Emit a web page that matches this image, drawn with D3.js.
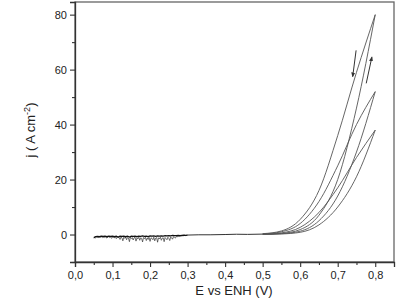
<!DOCTYPE html>
<html>
<head>
<meta charset="utf-8">
<script src="https://cdn.jsdelivr.net/npm/d3@7"></script>
<style>
  body { margin: 0; background: #fff; }
  svg { display: block; font-family: "Liberation Sans", Arial, sans-serif; }
</style>
</head>
<body>
<div id="container"></div>
<script>
/* CONSTANTS AND GLOBALS */
const width = 418;
const height = 301;
const margin = { left: 75, right: 24, top: 2, bottom: 39 };

/* DATA */
// tick values
const xTicks = [0, 0.1, 0.2, 0.3, 0.4, 0.5, 0.6, 0.7, 0.8];
const xMinor = [0.05, 0.15, 0.25, 0.35, 0.45, 0.55, 0.65, 0.75];
const yTicks = [0, 20, 40, 60, 80];
const yMinor = [-10, 10, 30, 50, 70];

// noisy low-potential region (two scans overlapping)
const noiseFwdJ = [-1.1, -0.8, -0.7, -0.8, -0.6, -0.7, -0.6, -0.8, -0.6, -0.7, -0.6, -0.8, -0.6, -0.9, -0.6, -0.7, -0.6, -0.8, -0.6, -0.9, -0.6, -0.7, -0.6, -0.8, -0.6, -0.7, -0.5, -0.7, -0.6, -0.8, -0.5, -0.6, -0.5, -0.7, -0.5, -0.6, -0.5, -0.6, -0.4, -0.5, -0.4, -0.5, -0.3, -0.4, -0.4, -0.3, -0.4, -0.3, -0.2, -0.3, -0.2];
const noiseRevJ = [
  -1.3, -1.1, -1.2, -0.9, -1.0, -1.1, -0.9, -1.0, -0.8, -1.1,
  -0.9, -1.2, -0.8, -1.0, -1.3, -0.9, -0.8, -1.1, -0.9, -1.4,
  -0.9, -1.0, -1.2, -0.8, -1.5, -0.9, -1.1, -1.0, -1.8, -0.9,
  -1.2, -2.3, -1.0, -1.4, -0.9, -1.9, -1.1, -1.3, -2.6, -1.0,
  -1.5, -1.1, -2.0, -1.2, -1.0, -2.4, -1.3, -1.6, -1.0, -2.1,
  -1.2, -1.4, -2.7, -1.1, -1.5, -1.0, -2.2, -1.3, -1.8, -1.1,
  -2.5, -1.2, -1.4, -1.9, -1.0, -2.3, -1.3, -1.1, -2.8, -1.2,
  -1.6, -1.0, -2.1, -1.3, -1.2, -2.6, -1.1, -1.5, -1.9, -1.0,
  -1.4, -2.2, -0.9, -1.2, -1.7, -0.8, -1.0, -1.3, -0.7, -0.8,
  -0.6, -0.7, -0.5, -0.6, -0.4, -0.5, -0.4, -0.3, -0.4, -0.3, -0.2
];

// flat part
const flatE = [0.30, 0.33, 0.36, 0.40, 0.43, 0.46, 0.50];
const flatJ = [-0.2, -0.1, -0.1, 0.0, 0.1, 0.05, 0.15];

// rising loops (E in V, j in A cm-2)
const loopE = [0.50, 0.55, 0.60, 0.65, 0.70, 0.75, 0.80];
const c1Fwd = [0.1, 0.4, 1.8, 7, 20, 46, 80];
const c1Rev = [0.3, 1.3, 5.5, 16, 36, 59, 80];
const c2Fwd = [0.1, 0.3, 1.2, 5, 14, 30, 52];
const c2Rev = [0.2, 1.0, 4.0, 12, 25, 40, 52];
const c3Fwd = [0.05, 0.2, 0.8, 3.5, 10, 21, 38];
const c3Rev = [0.1, 0.6, 2.6, 8, 17, 28, 38];

// scan direction arrows [E0, j0, E1, j1]
const arrows = [
  [0.749, 67, 0.740, 57.5],
  [0.776, 55, 0.791, 64.5]
];

/* SVG */
const svg = d3.select("#container")
  .append("svg")
  .attr("width", width)
  .attr("height", height);

const defs = svg.append("defs");
defs.append("marker")
  .attr("id", "head")
  .attr("viewBox", "0 0 10 10")
  .attr("refX", 8).attr("refY", 5)
  .attr("markerWidth", 5).attr("markerHeight", 6)
  .attr("orient", "auto")
  .append("path")
  .attr("d", "M0,1 L10,5 L0,9 Z")
  .attr("fill", "#333");

/* SCALES */
const x = d3.scaleLinear()
  .domain([0, 0.85])
  .range([margin.left, width - margin.right]);

const y = d3.scaleLinear()
  .domain([-10, 84.6])
  .range([height - margin.bottom, margin.top]);

/* FRAME */
svg.append("rect")
  .attr("x", x(0))
  .attr("y", y(84.6))
  .attr("width", x(0.85) - x(0))
  .attr("height", y(-10) - y(84.6))
  .attr("fill", "none")
  .attr("stroke", "#666")
  .attr("stroke-width", 1.3);

/* AXES */
svg.append("g")
  .attr("transform", `translate(0,${y(-10)})`)
  .call(d3.axisBottom(x).tickValues(xTicks).tickSize(5).tickPadding(4)
    .tickFormat(d => d3.format(".1f")(d).replace(".", ",")));

svg.append("g")
  .attr("transform", `translate(0,${y(-10)})`)
  .call(d3.axisBottom(x).tickValues(xMinor).tickSize(3).tickFormat(""))
  .call(g => g.select(".domain").remove());

svg.append("g")
  .attr("transform", `translate(${x(0)},0)`)
  .call(d3.axisLeft(y).tickValues(yTicks).tickSize(5).tickPadding(3));

svg.append("g")
  .attr("transform", `translate(${x(0)},0)`)
  .call(d3.axisLeft(y).tickValues(yMinor).tickSize(3).tickFormat(""))
  .call(g => g.select(".domain").remove());

svg.selectAll(".tick line").attr("stroke", "#333").attr("stroke-width", 1.1);
svg.selectAll(".domain").attr("stroke", "#333").attr("stroke-width", 1.3);
svg.selectAll(".tick text")
  .attr("fill", "#222")
  .style("font-size", "11px")
  .style("font-family", "Liberation Sans, Arial, sans-serif");

// axis titles
svg.append("text")
  .attr("x", 234)
  .attr("y", 295)
  .attr("text-anchor", "middle")
  .attr("fill", "#222")
  .style("font-size", "13px")
  .text("E vs ENH (V)");

const yl = svg.append("text")
  .attr("transform", "translate(35,130) rotate(-90)")
  .attr("text-anchor", "middle")
  .attr("fill", "#222")
  .style("font-size", "13px");
yl.append("tspan").text("j (  A cm");
yl.append("tspan").attr("dy", -5).style("font-size", "9px").text("-2");
yl.append("tspan").attr("dy", 5).text(")");

/* LINES */
const line = d3.line()
  .x(d => x(d[0]))
  .y(d => y(d[1]))
  .curve(d3.curveMonotoneX);

const rawLine = d3.line().x(d => x(d[0])).y(d => y(d[1]));

const noiseFwdE = d3.range(0.05, 0.3001, 0.005);
const noiseRevE = d3.range(0.05, 0.3001, 0.0025);

svg.append("path")
  .datum(noiseRevE.map((e, i) => [e, noiseRevJ[i]]))
  .attr("d", rawLine)
  .attr("fill", "none").attr("stroke", "#333").attr("stroke-width", 0.7);

svg.append("path")
  .datum(noiseFwdE.map((e, i) => [e, noiseFwdJ[i]]))
  .attr("d", rawLine)
  .attr("fill", "none").attr("stroke", "#111").attr("stroke-width", 1.3);

svg.append("path")
  .datum(flatE.map((e, i) => [e, flatJ[i]]))
  .attr("d", line)
  .attr("fill", "none").attr("stroke", "#333").attr("stroke-width", 1);

const loops = [c1Fwd, c1Rev, c2Fwd, c2Rev, c3Fwd, c3Rev];
svg.selectAll(".loop")
  .data(loops)
  .join("path")
  .attr("class", "loop")
  .attr("d", d => line(loopE.map((e, i) => [e, d[i]])))
  .attr("fill", "none")
  .attr("stroke", "#555")
  .attr("stroke-width", 0.9);

// arrows
svg.selectAll(".arrow")
  .data(arrows)
  .join("line")
  .attr("class", "arrow")
  .attr("x1", d => x(d[0])).attr("y1", d => y(d[1]))
  .attr("x2", d => x(d[2])).attr("y2", d => y(d[3]))
  .attr("stroke", "#333")
  .attr("stroke-width", 1)
  .attr("marker-end", "url(#head)");
</script>
</body>
</html>
